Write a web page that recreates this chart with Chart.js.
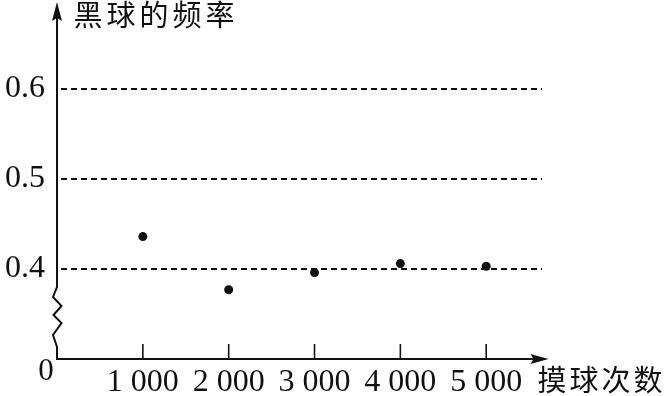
<!DOCTYPE html>
<html>
<head>
<meta charset="utf-8">
<script src="https://cdn.jsdelivr.net/npm/chart.js@4.4.1/dist/chart.umd.min.js"></script>
<style>
  html, body { margin: 0; padding: 0; background: #fff; }
  #wrap { width: 666px; height: 396px; }
</style>
</head>
<body>
<div id="wrap"><canvas id="grafico" width="666" height="396"></canvas></div>
<script>
// dados
const draws = [1000, 2000, 3000, 4000, 5000];
const blackFreq = [0.436, 0.377, 0.396, 0.406, 0.403];
const yTicks = [0.4, 0.5, 0.6];
const yTitle = "黑球的频率";
const xTitle = "摸球次数";

const serif = '"Liberation Serif", "DejaVu Serif", serif';
const cjk = '"Noto Sans CJK SC", sans-serif';

/* eixos com setas, quebra (zigue-zague), marcas e títulos */
const axesPlugin = {
  id: 'axesPlugin',
  afterDraw(chart) {
    const ctx = chart.ctx;
    const xs = chart.scales.x;
    const x0 = xs.getPixelForValue(0);
    const y0 = chart.scales.y.bottom;
    ctx.save();
    ctx.strokeStyle = '#111';
    ctx.fillStyle = '#111';
    ctx.lineWidth = 2;

    // eixo y com quebra
    ctx.beginPath();
    ctx.moveTo(x0, y0);
    ctx.lineTo(x0, y0 - 12);
    ctx.lineTo(x0 - 4, y0 - 24);
    ctx.lineTo(x0 + 4.5, y0 - 36);
    ctx.lineTo(x0 - 3.5, y0 - 44);
    ctx.lineTo(x0 + 4.5, y0 - 53);
    ctx.lineTo(x0 - 4, y0 - 62);
    ctx.lineTo(x0, y0 - 72);
    ctx.lineTo(x0, 18);
    ctx.stroke();
    ctx.beginPath();
    ctx.moveTo(x0, 2);
    ctx.lineTo(x0 - 5, 21);
    ctx.lineTo(x0, 18);
    ctx.lineTo(x0 + 5, 21);
    ctx.closePath();
    ctx.fill();

    // eixo x
    const xEnd = xs.right + 6.5;
    ctx.beginPath();
    ctx.moveTo(x0 - 1, y0);
    ctx.lineTo(xEnd - 4, y0);
    ctx.stroke();
    ctx.beginPath();
    ctx.moveTo(xEnd, y0);
    ctx.lineTo(xEnd - 18, y0 - 5);
    ctx.lineTo(xEnd - 15, y0);
    ctx.lineTo(xEnd - 18, y0 + 5);
    ctx.closePath();
    ctx.fill();

    // marcas
    ctx.lineWidth = 1.6;
    draws.forEach(v => {
      const px = xs.getPixelForValue(v);
      ctx.beginPath();
      ctx.moveTo(px, y0);
      ctx.lineTo(px, y0 - 15);
      ctx.stroke();
    });

    // origem
    ctx.font = '31px ' + serif;
    ctx.textAlign = 'center';
    ctx.textBaseline = 'middle';
    ctx.fillText('0', x0 - 11, y0 + 13);

    // títulos
    ctx.font = '29px ' + cjk;
    Array.from(yTitle).forEach((c, i) => ctx.fillText(c, 88 + i * 33, 15));
    Array.from(xTitle).forEach((c, i) => ctx.fillText(c, 552 + i * 32, 380));
    ctx.restore();
  }
};

const graficoFreq = new Chart(document.getElementById('grafico'), {
  type: 'scatter',
  data: {
    datasets: [{
      data: draws.map((d, i) => ({ x: d, y: blackFreq[i] })),
      backgroundColor: '#111',
      borderWidth: 0,
      pointRadius: 4.5,
      pointHoverRadius: 4.5
    }]
  },
  options: {
    responsive: false,
    animation: false,
    devicePixelRatio: 1,
    layout: { padding: { left: 0, right: 124, top: 8, bottom: 0 } },
    plugins: { legend: { display: false }, tooltip: { enabled: false } },
    scales: {
      x: {
        type: 'linear',
        min: 0,
        max: 5650,
        afterBuildTicks: s => { s.ticks = draws.map(v => ({ value: v })); },
        afterFit: s => { s.height = 37; s.paddingLeft = 0; s.paddingRight = 0; },
        grid: { display: false },
        border: { display: false },
        ticks: {
          color: '#111',
          padding: -4,
          maxRotation: 0,
          autoSkip: false,
          font: { family: serif, size: 32 },
          callback: v => String(v / 1000) + ' 000'
        }
      },
      y: {
        min: 0.3,
        max: 0.69,
        afterBuildTicks: s => { s.ticks = yTicks.map(v => ({ value: v })); },
        afterFit: s => { s.width = 57; s.paddingTop = 0; s.paddingBottom = 0; },
        grid: { color: '#111', lineWidth: 2, drawTicks: false },
        border: { display: false, dash: [6, 4], dashOffset: 6 },
        ticks: {
          color: '#111',
          padding: 12,
          font: { family: serif, size: 32 },
          callback: v => v.toFixed(1)
        }
      }
    }
  },
  plugins: [axesPlugin]
});
</script>
</body>
</html>
